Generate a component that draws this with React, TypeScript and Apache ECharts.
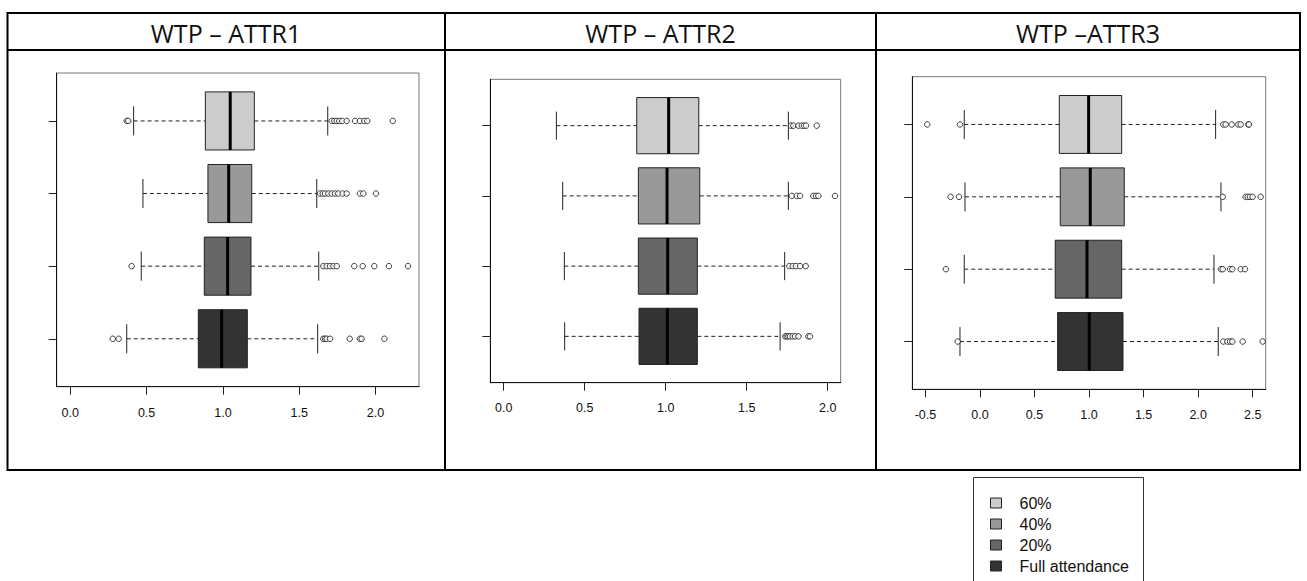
import React, { useEffect, useRef } from "react";
import * as echarts from "echarts";

// ---- Data ----
const groups = ["60%", "40%", "20%", "Full attendance"];
const panelTitles = ["WTP – ATTR1", "WTP – ATTR2", "WTP –ATTR3"];

// [lower whisker, Q1, median, Q3, upper whisker] per group (60%, 40%, 20%, Full attendance)
const attr1Stats = [
  [0.415, 0.885, 1.048, 1.206, 1.687],
  [0.476, 0.902, 1.038, 1.189, 1.615],
  [0.465, 0.878, 1.031, 1.184, 1.628],
  [0.37, 0.839, 0.992, 1.16, 1.621],
];
const attr1Outliers = [
  [0.37, 0.38, 1.713, 1.73, 1.746, 1.763, 1.782, 1.811, 1.866, 1.898, 1.926, 1.946, 2.113],
  [1.636, 1.654, 1.669, 1.691, 1.713, 1.735, 1.756, 1.785, 1.811, 1.898, 1.92, 2.003],
  [0.402, 1.658, 1.68, 1.702, 1.724, 1.746, 1.861, 1.916, 1.992, 2.088, 2.213],
  [0.278, 0.317, 1.658, 1.67, 1.68, 1.702, 1.831, 1.898, 1.909, 2.058],
];

const attr2Stats = [
  [0.325, 0.821, 1.018, 1.204, 1.757],
  [0.364, 0.831, 1.008, 1.21, 1.757],
  [0.374, 0.831, 1.012, 1.195, 1.734],
  [0.376, 0.835, 1.01, 1.195, 1.706],
];
const attr2Outliers = [
  [1.773, 1.788, 1.819, 1.84, 1.854, 1.866, 1.932],
  [1.778, 1.809, 1.829, 1.911, 1.928, 1.942, 2.045],
  [1.763, 1.784, 1.804, 1.829, 1.864],
  [1.738, 1.747, 1.757, 1.767, 1.784, 1.798, 1.819, 1.88, 1.891],
];

const attr3Stats = [
  [-0.144, 0.727, 0.996, 1.299, 2.16],
  [-0.137, 0.736, 1.011, 1.323, 2.209],
  [-0.144, 0.69, 0.981, 1.299, 2.145],
  [-0.183, 0.712, 1.002, 1.311, 2.184],
];
const attr3Outliers = [
  [-0.483, -0.183, 2.23, 2.252, 2.307, 2.368, 2.39, 2.46, 2.466],
  [-0.269, -0.192, 2.225, 2.435, 2.454, 2.475, 2.499, 2.573],
  [-0.312, 2.209, 2.225, 2.292, 2.313, 2.39, 2.429],
  [-0.204, 2.23, 2.267, 2.292, 2.313, 2.408, 2.591],
];

const attr1Ticks = [0, 0.5, 1, 1.5, 2];
const attr2Ticks = [0, 0.5, 1, 1.5, 2];
const attr3Ticks = [-0.5, 0, 0.5, 1, 1.5, 2, 2.5];

const attr1Range = [-0.089, 2.285];
const attr2Range = [-0.083, 2.08];
const attr3Range = [-0.62, 2.619];

// ---- Styles / layout ----
const groupColors = ["#cccccc", "#999999", "#666666", "#333333"];
const grids = [
  { left: 56.7, top: 73, width: 362.3, height: 313.7, labelMargin: 20 },
  { left: 490.3, top: 79.3, width: 350.4, height: 303.4, labelMargin: 19 },
  { left: 912.3, top: 76.7, width: 353.4, height: 312.6, labelMargin: 19 },
];
const titleCenters = [226, 660.5, 1088];

const panels = [
  { stats: attr1Stats, outliers: attr1Outliers, ticks: attr1Ticks, range: attr1Range },
  { stats: attr2Stats, outliers: attr2Outliers, ticks: attr2Ticks, range: attr2Range },
  { stats: attr3Stats, outliers: attr3Outliers, ticks: attr3Ticks, range: attr3Range },
];

const rowPos = (gi: number) => groups.length - gi;

function renderBox(params: any, api: any) {
  const lo = api.value(0), q1 = api.value(1), med = api.value(2), q3 = api.value(3), hi = api.value(4);
  const pos = api.value(5);
  const unit = api.size([0, 1])[1];
  const boxHalf = unit * 0.4;
  const capHalf = unit * 0.2;
  const pLo = api.coord([lo, pos]);
  const pQ1 = api.coord([q1, pos]);
  const pMed = api.coord([med, pos]);
  const pQ3 = api.coord([q3, pos]);
  const pHi = api.coord([hi, pos]);
  const y = pLo[1];
  const fill = api.visual("color");
  const dash = { stroke: "#222", lineWidth: 1, lineDash: [4, 3] };
  const solid = { stroke: "#222", lineWidth: 1 };
  return {
    type: "group",
    children: [
      { type: "line", shape: { x1: pLo[0], y1: y, x2: pQ1[0], y2: y }, style: dash },
      { type: "line", shape: { x1: pQ3[0], y1: y, x2: pHi[0], y2: y }, style: dash },
      { type: "line", shape: { x1: pLo[0], y1: y - capHalf, x2: pLo[0], y2: y + capHalf }, style: solid },
      { type: "line", shape: { x1: pHi[0], y1: y - capHalf, x2: pHi[0], y2: y + capHalf }, style: solid },
      {
        type: "rect",
        shape: { x: pQ1[0], y: y - boxHalf, width: pQ3[0] - pQ1[0], height: boxHalf * 2 },
        style: { fill, stroke: "#222", lineWidth: 1 },
      },
      {
        type: "line",
        shape: { x1: pMed[0], y1: y - boxHalf, x2: pMed[0], y2: y + boxHalf },
        style: { stroke: "#000", lineWidth: 3 },
      },
    ],
  };
}

export default function App() {
  const ref = useRef<HTMLDivElement>(null);

  useEffect(() => {
    if (!ref.current) return;
    const chart = echarts.init(ref.current, null, { renderer: "svg" });

    const gridOpts = grids.map((g) => ({
      left: g.left,
      top: g.top,
      width: g.width,
      height: g.height,
      show: true,
      borderColor: "#777",
      borderWidth: 1,
      backgroundColor: "transparent",
    }));

    const xAxes = panels.map((p, i) => ({
      type: "value",
      gridIndex: i,
      min: p.range[0],
      max: p.range[1],
      position: "bottom",
      splitLine: { show: false },
      axisLine: { show: true, onZero: false, lineStyle: { color: "#111", width: 1 } },
      axisTick: { show: true, length: 8, customValues: p.ticks, lineStyle: { color: "#222" } },
      axisLabel: {
        show: true,
        customValues: p.ticks,
        formatter: (v: number) => v.toFixed(1),
        fontFamily: "Liberation Sans, Arial, sans-serif",
        fontSize: 12.5,
        color: "#111",
        margin: grids[i].labelMargin,
      },
    }));

    const yAxes = panels.map((p, i) => ({
      type: "value",
      gridIndex: i,
      min: 0.34,
      max: groups.length + 0.66,
      splitLine: { show: false },
      axisLine: { show: true, onZero: false, lineStyle: { color: "#111", width: 1 } },
      axisTick: { show: true, length: 8, customValues: groups.map((_, gi) => rowPos(gi)), lineStyle: { color: "#222" } },
      axisLabel: { show: false },
    }));

    const series: any[] = [];
    panels.forEach((p, pi) => {
      groups.forEach((g, gi) => {
        series.push({
          type: "custom",
          name: g,
          xAxisIndex: pi,
          yAxisIndex: pi,
          itemStyle: { color: groupColors[gi] },
          renderItem: renderBox,
          dimensions: ["lo", "q1", "med", "q3", "hi", "pos"],
          encode: { x: [0, 1, 2, 3, 4], y: 5 },
          data: [[...p.stats[gi], rowPos(gi)]],
          z: 2,
        });
      });
      const pts: number[][] = [];
      p.outliers.forEach((arr, gi) => arr.forEach((v) => pts.push([v, rowPos(gi)])));
      series.push({
        type: "scatter",
        name: "outliers" + pi,
        xAxisIndex: pi,
        yAxisIndex: pi,
        symbol: "circle",
        symbolSize: 5.5,
        itemStyle: { color: "#fff", borderColor: "#111", borderWidth: 1 },
        data: pts,
        z: 3,
      });
    });

    const tableLine = { stroke: "#000", lineWidth: 2 };
    const graphic: any[] = [
      { type: "rect", shape: { x: 7.5, y: 13, width: 1292.5, height: 457 }, style: { fill: "none", ...tableLine } },
      { type: "line", shape: { x1: 7.5, y1: 50, x2: 1300, y2: 50 }, style: tableLine },
      { type: "line", shape: { x1: 445, y1: 13, x2: 445, y2: 470 }, style: tableLine },
      { type: "line", shape: { x1: 876, y1: 13, x2: 876, y2: 470 }, style: tableLine },
      {
        type: "polyline",
        shape: { points: [[973.5, 590], [973.5, 477.5], [1143.5, 477.5], [1143.5, 590]] },
        style: { fill: "none", stroke: "#333", lineWidth: 1 },
      },
      ...panelTitles.map((t, i) => ({
        type: "text",
        x: titleCenters[i],
        y: 33,
        style: {
          text: t,
          fontFamily: "Open Sans, sans-serif",
          fontSize: 25,
          fill: "#111",
          textAlign: "center",
          textVerticalAlign: "middle",
        },
      })),
    ];

    chart.setOption({
      animation: false,
      backgroundColor: "#fff",
      grid: gridOpts,
      xAxis: xAxes,
      yAxis: yAxes,
      legend: {
        data: groups,
        orient: "vertical",
        left: 990,
        top: 495,
        padding: 0,
        itemWidth: 11,
        itemHeight: 10,
        itemGap: 5,
        icon: "rect",
        selectedMode: false,
        itemStyle: { borderColor: "#222", borderWidth: 1 },
        textStyle: {
          fontFamily: "Liberation Sans, Arial, sans-serif",
          fontSize: 16,
          color: "#111",
          padding: [0, 0, 0, 13],
        },
      },
      graphic,
      series,
    });

    return () => chart.dispose();
  }, []);

  return (
    <div
      ref={ref}
      style={{ position: "fixed", left: 0, top: 0, width: 1307, height: 581, background: "#fff" }}
    />
  );
}
